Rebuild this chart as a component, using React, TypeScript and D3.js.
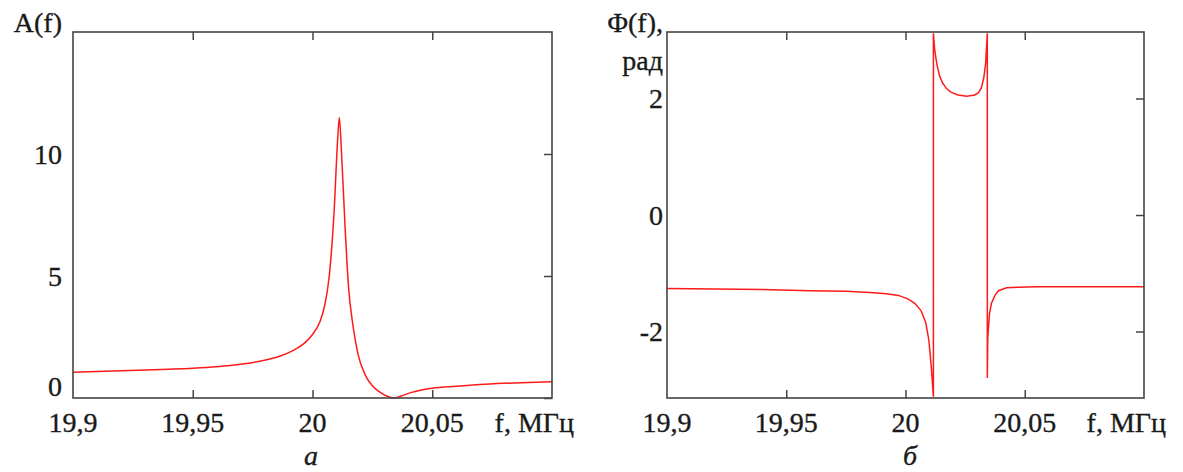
import React, { useEffect, useRef } from "react";
import * as d3 from "d3";

// frequency ticks shared by both panels
const xTicks = [19.9, 19.95, 20, 20.05];
const xTickLabels = ["19,9", "19,95", "20", "20,05"];

// amplitude response A(f)
const ampFreq = [
  19.9, 19.92, 19.94, 19.95, 19.96, 19.97, 19.98, 19.986, 19.992, 19.997, 20.0,
  20.003, 20.005, 20.007, 20.009, 20.0105, 20.0112, 20.012, 20.0135, 20.015,
  20.017, 20.019, 20.022, 20.025, 20.028, 20.031, 20.034, 20.037, 20.041,
  20.045, 20.05, 20.06, 20.07, 20.08, 20.09, 20.1
];
const ampValues = [
  1.06, 1.12, 1.18, 1.22, 1.28, 1.38, 1.55, 1.7, 1.95, 2.28, 2.6, 3.1, 3.75,
  5.0, 7.6, 10.6, 11.5, 10.3, 7.2, 4.6, 2.9, 1.8, 0.95, 0.5, 0.25, 0.08, 0.0,
  0.08, 0.22, 0.32, 0.4, 0.48, 0.55, 0.6, 0.64, 0.67
];
const ampTicks = [0, 5, 10];

// phase response Φ(f), rad
const phaseFreq = [
  19.9, 19.92, 19.94, 19.96, 19.975, 19.985, 19.992, 19.997, 20.001, 20.004,
  20.0065, 20.0085, 20.0098, 20.0108, 20.0117, 20.0117, 20.0122, 20.0131,
  20.0142, 20.0155, 20.0172, 20.019, 20.022, 20.0257, 20.029, 20.0306,
  20.0318, 20.0328, 20.0336, 20.0343, 20.0343, 20.0345, 20.0352, 20.036,
  20.0375, 20.039, 20.0424, 20.047, 20.055, 20.07, 20.085, 20.1
];
const phaseValues = [
  -1.26, -1.27, -1.28, -1.3, -1.31, -1.33, -1.35, -1.38, -1.44, -1.52, -1.64,
  -1.85, -2.15, -2.6, -3.12, 3.12, 2.85, 2.6, 2.4, 2.27, 2.17, 2.11, 2.06,
  2.04, 2.06, 2.1, 2.18, 2.35, 2.6, 3.12, -2.8, -2.1, -1.7, -1.52, -1.38,
  -1.3, -1.25, -1.24, -1.23, -1.23, -1.23, -1.23
];
const phaseTicks = [-2, 0, 2];

const FONT = "'Liberation Serif', 'DejaVu Serif', serif";
const TEXT = "#1a1a1a";
const FRAME = "#444";

type Panel = {
  left: number;
  right: number;
  top: number;
  bottom: number;
  yDomain: [number, number];
  yTicks: number[];
  labelX: number;
  freq: number[];
  values: number[];
  smooth: boolean;
  caption: string;
  captionX: number;
  title: string[];
  zeroLift: boolean;
};

const drawPanel = (svg: d3.Selection<SVGSVGElement, unknown, null, undefined>, p: Panel) => {
  const x = d3.scaleLinear().domain([19.9, 20.1]).range([p.left, p.right]);
  const y = d3.scaleLinear().domain(p.yDomain).range([p.bottom, p.top]);
  const g = svg.append("g");

  // inner ticks: bottom, top, right
  g.append("g")
    .attr("transform", `translate(0,${p.bottom})`)
    .call(d3.axisBottom(x).tickValues(xTicks.slice(1)).tickSize(-8).tickFormat(() => ""))
    .call(s => s.select(".domain").remove());
  g.append("g")
    .attr("transform", `translate(0,${p.top})`)
    .call(d3.axisTop(x).tickValues(xTicks.slice(1)).tickSize(-8).tickFormat(() => ""))
    .call(s => s.select(".domain").remove());
  g.append("g")
    .attr("transform", `translate(${p.right},0)`)
    .call(d3.axisRight(y).tickValues(p.yTicks).tickSize(-8).tickFormat(() => ""))
    .call(s => s.select(".domain").remove());
  g.selectAll(".tick line").attr("stroke", FRAME).attr("stroke-width", 1.5);

  // curve
  const line = d3
    .line<number>()
    .x((_, i) => x(p.freq[i]))
    .y(d => y(d))
    .curve(p.smooth ? d3.curveMonotoneX : d3.curveLinear);
  g.append("path")
    .datum(p.values)
    .attr("d", line)
    .attr("fill", "none")
    .attr("stroke", "#ff1a1a")
    .attr("stroke-width", 1.5);

  // frame
  g.append("rect")
    .attr("x", p.left)
    .attr("y", p.top)
    .attr("width", p.right - p.left)
    .attr("height", p.bottom - p.top)
    .attr("fill", "none")
    .attr("stroke", FRAME)
    .attr("stroke-width", 1.6);

  const txt = g.append("g")
    .style("font-family", FONT)
    .attr("font-size", 28)
    .attr("fill", TEXT)
    .attr("stroke", TEXT)
    .attr("stroke-width", 0.35);

  // x tick labels
  txt.selectAll(".xl")
    .data(xTicks)
    .enter()
    .append("text")
    .attr("x", d => x(d))
    .attr("y", p.bottom + 34)
    .attr("text-anchor", "middle")
    .text((_, i) => xTickLabels[i]);
  txt.append("text")
    .attr("x", p.right + 22)
    .attr("y", p.bottom + 34)
    .attr("text-anchor", "end")
    .text("f, МГц");

  // y tick labels
  txt.selectAll(".yl")
    .data(p.yTicks)
    .enter()
    .append("text")
    .attr("x", p.labelX)
    .attr("y", d => y(d) + (p.zeroLift && d === 0 ? -12 : 0))
    .attr("dy", "0.35em")
    .attr("text-anchor", "end")
    .text(d => (d < 0 ? "-" + Math.abs(d) : String(d)));

  // axis title
  p.title.forEach((t, i) => {
    txt.append("text")
      .attr("x", p.labelX)
      .attr("y", 32 + i * 38)
      .attr("text-anchor", "end")
      .text(t);
  });

  // caption
  txt.append("text")
    .attr("x", p.captionX)
    .attr("y", 465)
    .attr("text-anchor", "middle")
    .attr("font-style", "italic")
    .text(p.caption);
};

const App = () => {
  const ref = useRef<SVGSVGElement>(null);
  useEffect(() => {
    const svg = d3.select(ref.current as SVGSVGElement);
    svg.selectAll("*").remove();
    drawPanel(svg, {
      left: 73, right: 552, top: 32, bottom: 398,
      yDomain: [0, 15], yTicks: ampTicks, labelX: 62,
      freq: ampFreq, values: ampValues, smooth: true,
      caption: "а", captionX: 311, title: ["A(f)"], zeroLift: true
    });
    drawPanel(svg, {
      left: 667, right: 1144, top: 32, bottom: 398,
      yDomain: [-Math.PI, Math.PI], yTicks: phaseTicks, labelX: 663,
      freq: phaseFreq, values: phaseValues, smooth: false,
      caption: "б", captionX: 910, title: ["Φ(f),", "рад"], zeroLift: false
    });
  }, []);
  return (
    <svg
      ref={ref}
      width={1183}
      height={472}
      style={{ position: "absolute", left: 0, top: 0, background: "#fff" }}
    />
  );
};

export default App;
